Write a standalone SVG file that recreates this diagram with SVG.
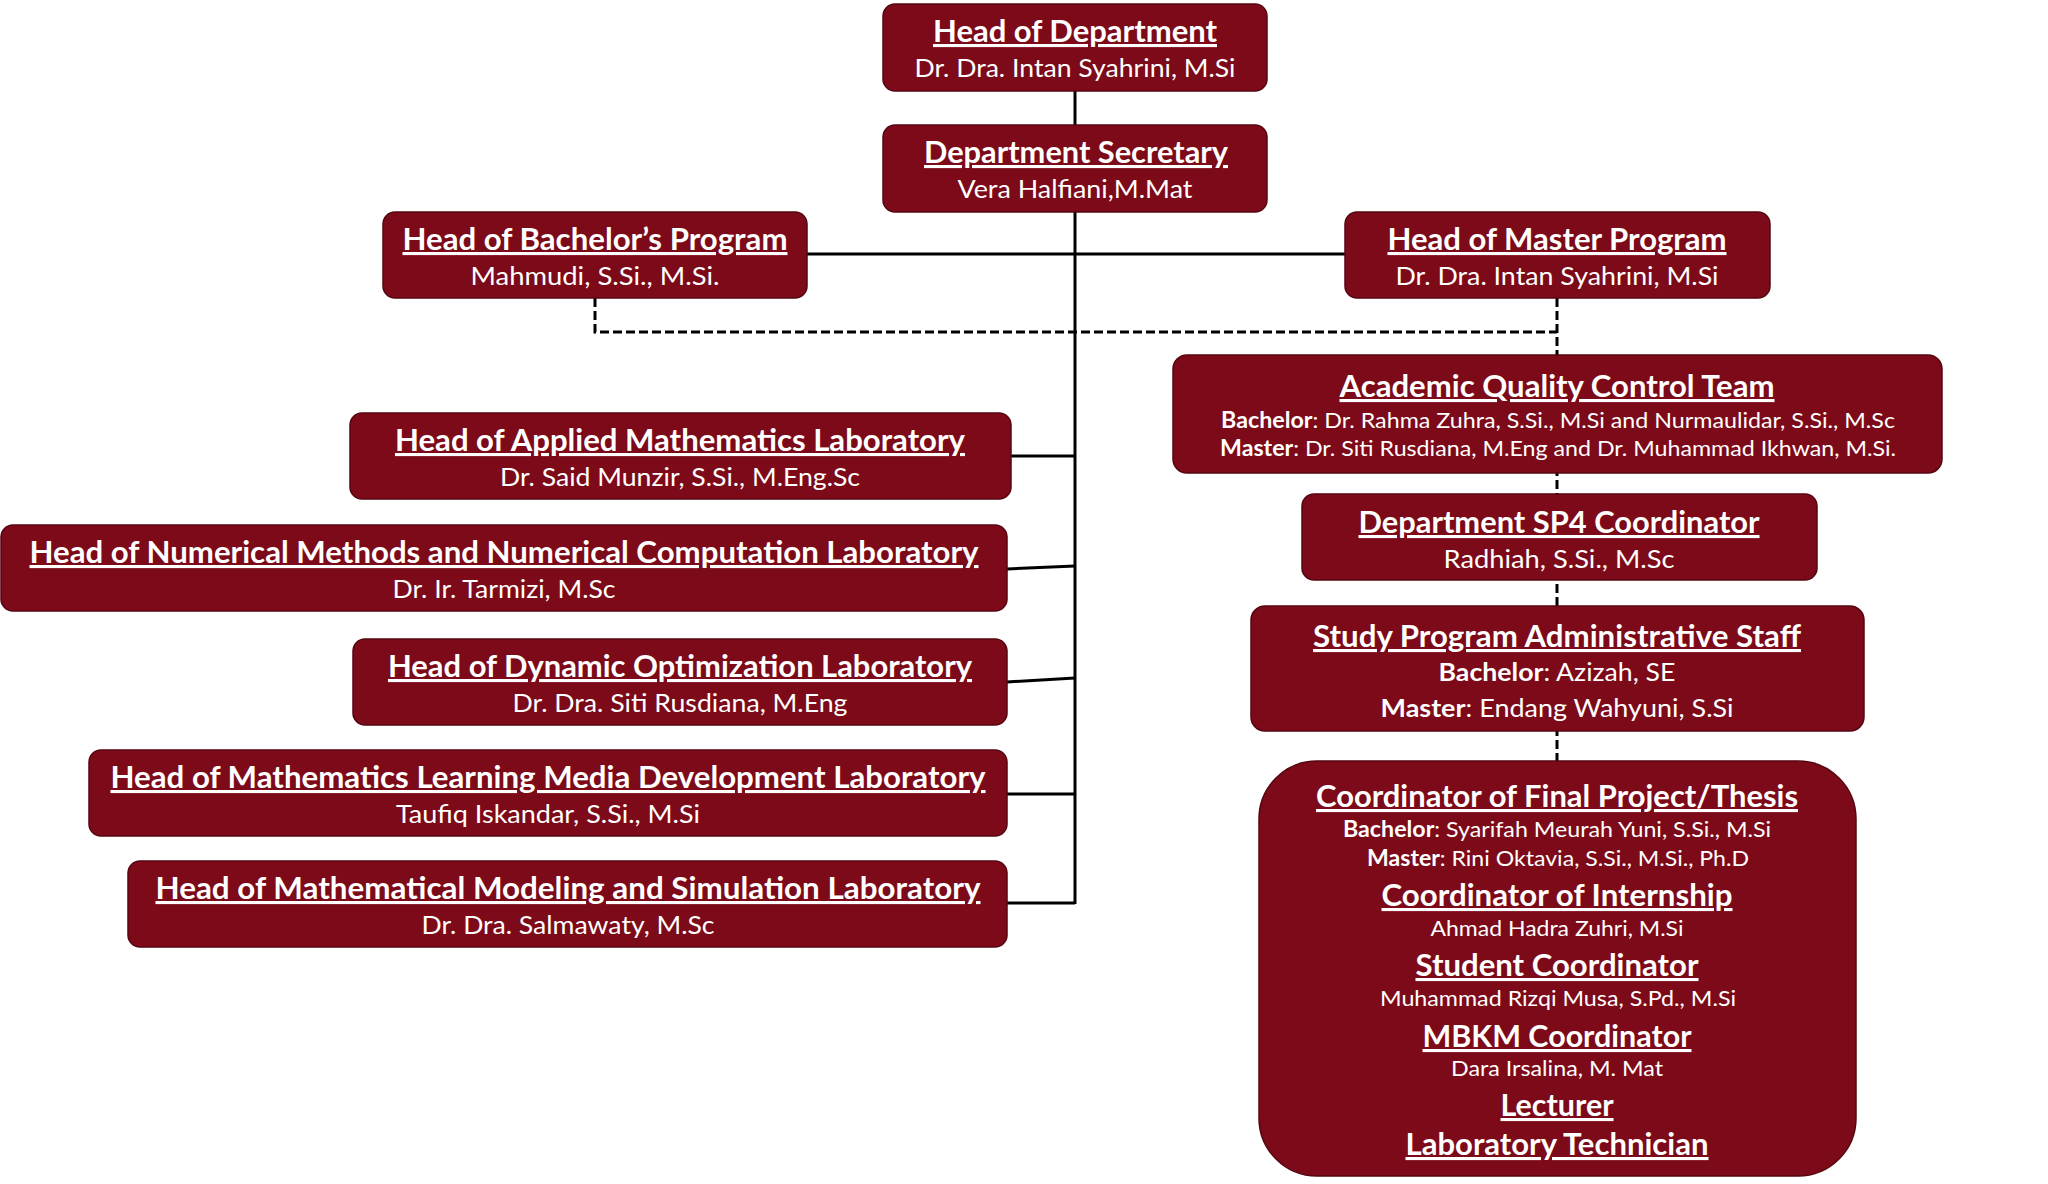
<svg xmlns="http://www.w3.org/2000/svg" width="2048" height="1184" viewBox="0 0 2048 1184">
<style>
.box{fill:#7d0a18;stroke:#560610;stroke-width:1.5}
.t{font-family:Lato,"Open Sans","DejaVu Sans",sans-serif;font-weight:700;font-size:31px;fill:#fff;text-anchor:middle;text-decoration:underline}
.s{font-family:Lato,"Open Sans","DejaVu Sans",sans-serif;font-weight:400;font-size:25px;fill:#fff;text-anchor:middle}
.ss{font-family:Lato,"Open Sans","DejaVu Sans",sans-serif;font-weight:400;font-size:22px;fill:#fff;text-anchor:middle}
.b{font-weight:700}
.ln{stroke:#000;stroke-width:3;fill:none}
.dl{stroke:#000;stroke-width:3;fill:none;stroke-dasharray:9 4}
</style>
<rect width="2048" height="1184" fill="#fff"/>
<g id="connectors">
<line class="ln" x1="1075" y1="91" x2="1075" y2="904"/>
<line class="ln" x1="807" y1="254" x2="1345" y2="254"/>
<line class="ln" x1="1011" y1="456" x2="1075" y2="456"/>
<line class="ln" x1="1007" y1="569" x2="1075" y2="566"/>
<line class="ln" x1="1007" y1="682" x2="1075" y2="678"/>
<line class="ln" x1="1007" y1="794" x2="1075" y2="794"/>
<line class="ln" x1="1007" y1="903" x2="1075" y2="903"/>
<polyline class="dl" points="595,298 595,332 1557,332"/>
<line class="dl" x1="1557" y1="298" x2="1557" y2="762"/>
</g>
<g id="head-department">
<rect class="box" x="883" y="4" width="384" height="87" rx="12"/>
<text class="t" x="1075" y="42" textLength="284" lengthAdjust="spacingAndGlyphs">Head of Department</text>
<text class="s" x="1075" y="77" textLength="321" lengthAdjust="spacingAndGlyphs">Dr. Dra. Intan Syahrini, M.Si</text>
</g>
<g id="department-secretary">
<rect class="box" x="883" y="125" width="384" height="87" rx="12"/>
<text class="t" x="1076" y="163" textLength="304" lengthAdjust="spacingAndGlyphs">Department Secretary</text>
<text class="s" x="1075" y="198" textLength="235" lengthAdjust="spacingAndGlyphs">Vera Halfiani,M.Mat</text>
</g>
<g id="head-bachelor">
<rect class="box" x="383" y="212" width="424" height="86" rx="12"/>
<text class="t" x="595" y="250" textLength="385" lengthAdjust="spacingAndGlyphs">Head of Bachelor’s Program</text>
<text class="s" x="595" y="285" textLength="249" lengthAdjust="spacingAndGlyphs">Mahmudi, S.Si., M.Si.</text>
</g>
<g id="head-master">
<rect class="box" x="1345" y="212" width="425" height="86" rx="12"/>
<text class="t" x="1557" y="250" textLength="339" lengthAdjust="spacingAndGlyphs">Head of Master Program</text>
<text class="s" x="1557" y="285" textLength="323" lengthAdjust="spacingAndGlyphs">Dr. Dra. Intan Syahrini, M.Si</text>
</g>
<g id="academic-quality">
<rect class="box" x="1173" y="355" width="769" height="118" rx="14"/>
<text class="t" x="1557" y="397" textLength="435" lengthAdjust="spacingAndGlyphs">Academic Quality Control Team</text>
<text class="ss" x="1558" y="428" textLength="674" lengthAdjust="spacingAndGlyphs"><tspan class="b">Bachelor</tspan>: Dr. Rahma Zuhra, S.Si., M.Si and Nurmaulidar, S.Si., M.Sc</text>
<text class="ss" x="1558" y="456" textLength="676" lengthAdjust="spacingAndGlyphs"><tspan class="b">Master</tspan>: Dr. Siti Rusdiana, M.Eng and Dr. Muhammad Ikhwan, M.Si.</text>
</g>
<g id="sp4-coordinator">
<rect class="box" x="1302" y="494" width="515" height="86" rx="12"/>
<text class="t" x="1559" y="533" textLength="401" lengthAdjust="spacingAndGlyphs">Department SP4 Coordinator</text>
<text class="s" x="1559" y="568" textLength="231" lengthAdjust="spacingAndGlyphs">Radhiah, S.Si., M.Sc</text>
</g>
<g id="admin-staff">
<rect class="box" x="1251" y="606" width="613" height="125" rx="14"/>
<text class="t" x="1557" y="647" textLength="488" lengthAdjust="spacingAndGlyphs">Study Program Administrative Staff</text>
<text class="s" x="1557" y="681" textLength="237" lengthAdjust="spacingAndGlyphs"><tspan class="b">Bachelor</tspan>: Azizah, SE</text>
<text class="s" x="1557" y="717" textLength="353" lengthAdjust="spacingAndGlyphs"><tspan class="b">Master</tspan>: Endang Wahyuni, S.Si</text>
</g>
<g id="coordinators">
<rect class="box" x="1259" y="761" width="597" height="415" rx="58"/>
<text class="t" x="1557" y="807" textLength="482" lengthAdjust="spacingAndGlyphs">Coordinator of Final Project/Thesis</text>
<text class="ss" x="1557" y="837" textLength="428" lengthAdjust="spacingAndGlyphs"><tspan class="b">Bachelor</tspan>: Syarifah Meurah Yuni, S.Si., M.Si</text>
<text class="ss" x="1558" y="866" textLength="382" lengthAdjust="spacingAndGlyphs"><tspan class="b">Master</tspan>: Rini Oktavia, S.Si., M.Si., Ph.D</text>
<text class="t" x="1557" y="906" textLength="351" lengthAdjust="spacingAndGlyphs">Coordinator of Internship</text>
<text class="ss" x="1557" y="936" textLength="253" lengthAdjust="spacingAndGlyphs">Ahmad Hadra Zuhri, M.Si</text>
<text class="t" x="1557" y="976" textLength="283" lengthAdjust="spacingAndGlyphs">Student Coordinator</text>
<text class="ss" x="1558" y="1006" textLength="356" lengthAdjust="spacingAndGlyphs">Muhammad Rizqi Musa, S.Pd., M.Si</text>
<text class="t" x="1557" y="1047" textLength="269" lengthAdjust="spacingAndGlyphs">MBKM Coordinator</text>
<text class="ss" x="1557" y="1076" textLength="212" lengthAdjust="spacingAndGlyphs">Dara Irsalina, M. Mat</text>
<text class="t" x="1557" y="1116" textLength="113" lengthAdjust="spacingAndGlyphs">Lecturer</text>
<text class="t" x="1557" y="1155" textLength="303" lengthAdjust="spacingAndGlyphs">Laboratory Technician</text>
</g>
<g id="lab-applied">
<rect class="box" x="350" y="413" width="661" height="86" rx="12"/>
<text class="t" x="680" y="451" textLength="570" lengthAdjust="spacingAndGlyphs">Head of Applied Mathematics Laboratory</text>
<text class="s" x="680" y="486" textLength="360" lengthAdjust="spacingAndGlyphs">Dr. Said Munzir, S.Si., M.Eng.Sc</text>
</g>
<g id="lab-numerical">
<rect class="box" x="1" y="525" width="1006" height="86" rx="12"/>
<text class="t" x="504" y="563" textLength="949" lengthAdjust="spacingAndGlyphs">Head of Numerical Methods and Numerical Computation Laboratory</text>
<text class="s" x="504" y="598" textLength="223" lengthAdjust="spacingAndGlyphs">Dr. Ir. Tarmizi, M.Sc</text>
</g>
<g id="lab-dynamic">
<rect class="box" x="353" y="639" width="654" height="86" rx="12"/>
<text class="t" x="680" y="677" textLength="584" lengthAdjust="spacingAndGlyphs">Head of Dynamic Optimization Laboratory</text>
<text class="s" x="680" y="712" textLength="335" lengthAdjust="spacingAndGlyphs">Dr. Dra. Siti Rusdiana, M.Eng</text>
</g>
<g id="lab-media">
<rect class="box" x="89" y="750" width="918" height="86" rx="12"/>
<text class="t" x="548" y="788" textLength="875" lengthAdjust="spacingAndGlyphs">Head of Mathematics Learning Media Development Laboratory</text>
<text class="s" x="548" y="823" textLength="304" lengthAdjust="spacingAndGlyphs">Taufiq Iskandar, S.Si., M.Si</text>
</g>
<g id="lab-modeling">
<rect class="box" x="128" y="861" width="879" height="86" rx="12"/>
<text class="t" x="568" y="899" textLength="825" lengthAdjust="spacingAndGlyphs">Head of Mathematical Modeling and Simulation Laboratory</text>
<text class="s" x="568" y="934" textLength="293" lengthAdjust="spacingAndGlyphs">Dr. Dra. Salmawaty, M.Sc</text>
</g>
</svg>
